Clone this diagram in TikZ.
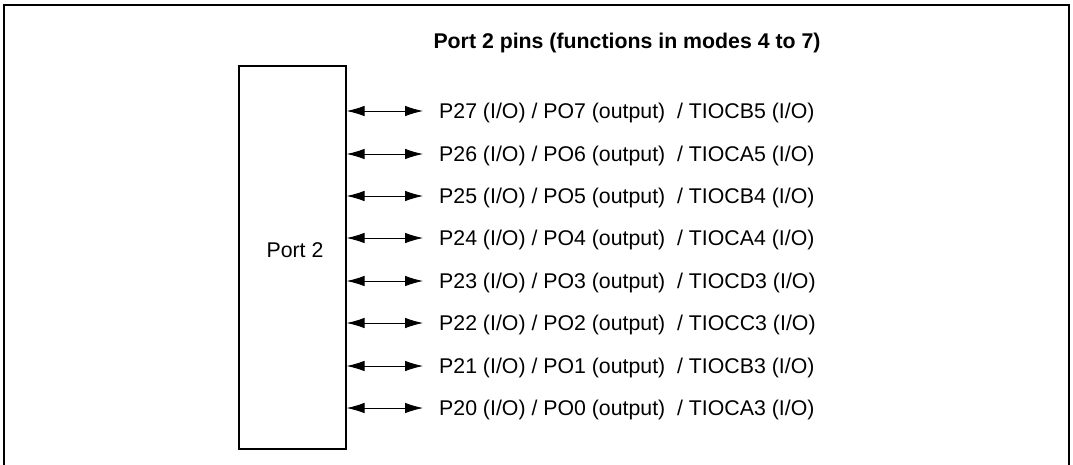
\documentclass[tikz,border=0pt]{standalone}
\usepackage{fontspec}
\setmainfont{Liberation Sans}
\usetikzlibrary{arrows.meta}
\begin{document}
\begin{tikzpicture}[x=1pt,y=-1pt,
  lbl/.style={anchor=west,inner sep=0pt,font=\fontsize{21.3}{25}\selectfont},
  pin/.style={{Latex[length=18pt,width=10.5pt]}-{Latex[length=18pt,width=10.5pt]},line width=0.9pt},
  portbox/.style={draw,line width=1.2pt,inner sep=0pt}]
\useasboundingbox (0,0) rectangle (1073,464);
\draw[line width=2.2pt] (4,470) -- (4,5) -- (1069,5) -- (1069,470);
\node[font=\bfseries\fontsize{21.3}{25}\selectfont,anchor=center] (title) at (627,43) {Port 2 pins (functions in modes 4 to 7)};
\node[portbox,minimum width=107pt,minimum height=383pt] (port) at (292.5,257.5) {};
\node[font=\fontsize{21.3}{25}\selectfont] (plabel) at (295,250) {Port 2};
\foreach \i/\y/\t in {7/111/TIOCB5,6/154/TIOCA5,5/196/TIOCB4,4/238/TIOCA4,3/281/TIOCD3,2/323/TIOCC3,1/366/TIOCB3,0/408/TIOCA3}{
  \node[lbl] (t\i) at (439,\y+2) {P2\i\ (I/O) / PO\i\ (output)\ \ / \t\ (I/O)};
  \coordinate (s\i) at (port.east |- 0,\y);
  \coordinate (e\i) at (423,\y);
  \draw[pin] (s\i) -- (e\i);
}
\end{tikzpicture}
\end{document}
